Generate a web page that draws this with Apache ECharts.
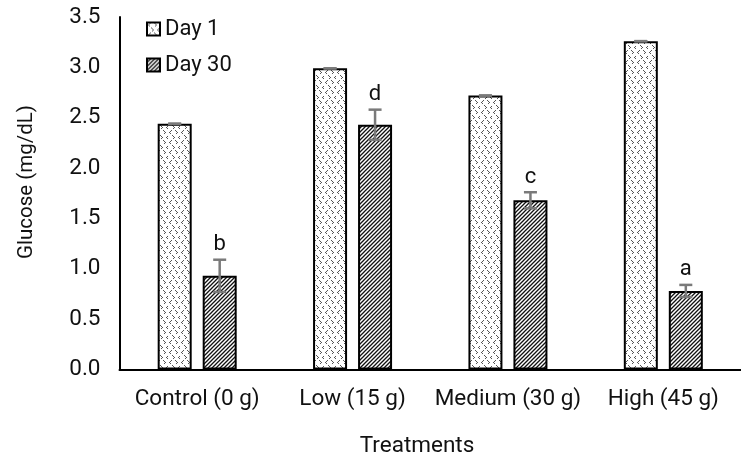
<!DOCTYPE html>
<html>
<head>
<meta charset="utf-8">
<script src="https://cdn.jsdelivr.net/npm/echarts@6/dist/echarts.min.js"></script>
<style>
  html, body { margin: 0; padding: 0; background: #fff; }
  #chart { width: 741px; height: 464px; }
</style>
</head>
<body>
<div id="chart"></div>
<script>
// Glucose by treatment, Day 1 vs Day 30
const categories = ['Control (0 g)', 'Low (15 g)', 'Medium (30 g)', 'High (45 g)'];
const day1 = [2.44, 2.99, 2.72, 3.26];
const day1Err = [0, 0, 0, 0];
const day30 = [0.93, 2.43, 1.68, 0.78];
const day30Err = [0.16, 0.15, 0.08, 0.06];
const day30Letters = ['b', 'd', 'c', 'a'];
const yTicks = [0, 0.5, 1, 1.5, 2, 2.5, 3, 3.5];

const FONT = 'Roboto';
const BAR_W = 34;
const BAR_GAP = 11;
const HALF_STEP = (BAR_W + BAR_GAP) / 2;

// Sparse grey chevron texture ("< >") for Day 1
function chevronPattern() {
  const w = 12, h = 10;
  const c = document.createElement('canvas');
  c.width = w; c.height = h;
  const g = c.getContext('2d');
  g.fillStyle = '#fff';
  g.fillRect(0, 0, w, h);
  g.fillStyle = '#555';
  const left = (x, y) => {
    g.fillRect(x + 2, y, 1, 1); g.fillRect(x + 1, y + 1, 1, 1); g.fillRect(x, y + 2, 1, 1);
    g.fillRect(x + 1, y + 3, 1, 1);
  };
  const right = (x, y) => {
    g.fillRect(x, y, 1, 1); g.fillRect(x + 1, y + 1, 1, 1); g.fillRect(x + 2, y + 2, 1, 1);
    g.fillRect(x + 1, y + 3, 1, 1);
  };
  left(1, 0); right(7, 0);
  right(4, 5); left(10, 5);
  return c;
}

// Diagonal hatch for Day 30
function hatchPattern() {
  const s = 4;
  const c = document.createElement('canvas');
  c.width = s; c.height = s;
  const g = c.getContext('2d');
  g.fillStyle = '#fff';
  g.fillRect(0, 0, s, s);
  g.strokeStyle = '#111';
  g.lineWidth = 1.3;
  g.beginPath();
  for (let k = -1; k <= 1; k++) {
    g.moveTo(k * s - 1, s + 1);
    g.lineTo(k * s + s + 1, -1);
  }
  g.stroke();
  return c;
}

const day1Fill = { image: chevronPattern(), repeat: 'repeat' };
const day30Fill = { image: hatchPattern(), repeat: 'repeat' };

function errorSeries(values, errs, offset, letters) {
  return {
    type: 'custom',
    z: 5,
    silent: true,
    data: values.map((v, i) => [i, v, errs[i]]),
    renderItem: function (params, api) {
      const i = api.value(0), v = api.value(1), e = api.value(2);
      const top = api.coord([i, v + e]);
      const bot = api.coord([i, v - e]);
      const x = top[0] + offset;
      const cap = 6.5;
      const stroke = { stroke: '#7a7a7a', lineWidth: 2.5 };
      const children = [
        { type: 'line', shape: { x1: x, y1: top[1], x2: x, y2: bot[1] }, style: stroke },
        { type: 'line', shape: { x1: x - cap, y1: top[1], x2: x + cap, y2: top[1] }, style: stroke },
        { type: 'line', shape: { x1: x - cap, y1: bot[1], x2: x + cap, y2: bot[1] }, style: stroke }
      ];
      if (letters) {
        children.push({
          type: 'text',
          style: {
            text: letters[params.dataIndex],
            x: x, y: top[1] - 4,
            align: 'center', verticalAlign: 'bottom',
            font: '22px ' + FONT, fill: '#111'
          }
        });
      }
      return { type: 'group', children: children };
    }
  };
}

const chart = echarts.init(document.getElementById('chart'));
chart.setOption({
  animation: false,
  backgroundColor: '#fff',
  grid: { left: 119.5, top: 17, width: 631, height: 352.5, containLabel: false },
  legend: {
    orient: 'vertical',
    left: 146, top: 18,
    padding: 0,
    icon: 'rect',
    itemWidth: 13, itemHeight: 13,
    itemGap: 14,
    textStyle: { fontFamily: FONT, fontSize: 22, color: '#111', padding: [0, 0, 0, 0] },
    data: ['Day 1', 'Day 30']
  },
  xAxis: {
    type: 'category',
    data: categories,
    axisLine: { lineStyle: { color: '#000', width: 2 } },
    axisTick: { show: false },
    axisLabel: { interval: 0, fontFamily: FONT, fontSize: 22.5, color: '#111', margin: 18 }
  },
  yAxis: {
    type: 'value',
    min: 0, max: 3.5, interval: 0.5,
    axisLine: { show: true, lineStyle: { color: '#000', width: 2 } },
    axisTick: { show: false },
    splitLine: { show: false },
    axisLabel: {
      fontFamily: FONT, fontSize: 22.5, color: '#111', margin: 19,
      formatter: v => yTicks.includes(v) ? v.toFixed(1) : ''
    }
  },
  graphic: [
    {
      type: 'text', x: 27, y: 182, rotation: Math.PI / 2,
      style: { text: 'Glucose (mg/dL)', font: '20.5px ' + FONT, fill: '#111', align: 'center', verticalAlign: 'middle' }
    },
    {
      type: 'text', x: 417, y: 446,
      style: { text: 'Treatments', font: '22.5px ' + FONT, fill: '#111', align: 'center', verticalAlign: 'middle' }
    }
  ],
  series: [
    {
      name: 'Day 1', type: 'bar', data: day1,
      barWidth: BAR_W, barGap: (BAR_GAP / BAR_W * 100) + '%',
      itemStyle: { color: day1Fill, borderColor: '#000', borderWidth: 2 }
    },
    {
      name: 'Day 30', type: 'bar', data: day30,
      barWidth: BAR_W,
      itemStyle: { color: day30Fill, borderColor: '#000', borderWidth: 2 }
    },
    errorSeries(day1, day1Err, -HALF_STEP, null),
    errorSeries(day30, day30Err, HALF_STEP, day30Letters)
  ]
});
</script>
</body>
</html>
